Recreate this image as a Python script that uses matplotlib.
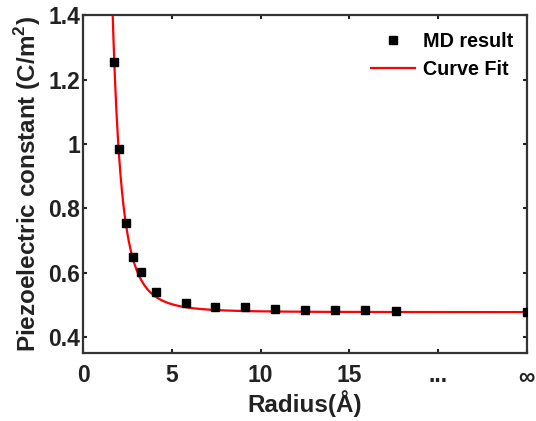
import numpy as np
import matplotlib
matplotlib.use("Agg")
import matplotlib.pyplot as plt

plt.rcParams['font.family'] = ['Liberation Sans', 'DejaVu Sans']
plt.rcParams['font.weight'] = 'bold'
plt.rcParams['mathtext.fontset'] = 'custom'
plt.rcParams['mathtext.bf'] = 'Liberation Sans:bold'
plt.rcParams['mathtext.rm'] = 'Liberation Sans:bold'

# MD results (last point is the bulk value, drawn at the "infinity" slot x=25)
radius = [1.76, 2.0, 2.42, 2.79, 3.26, 4.1, 5.77, 7.45, 9.12, 10.8, 12.5, 14.2, 15.9, 17.6, 25]
piezo = [1.255, 0.984, 0.755, 0.649, 0.601, 0.541, 0.505, 0.494, 0.492, 0.487,
         0.484, 0.483, 0.483, 0.481, 0.476]

# curve fit parameters: y = c + a * r^(-n)
fit_c = 0.477
fit_a = 5.0
fit_n = 3.3

xticks = [0, 5, 10, 15, 20, 25]
xticklabels = ['0', '5', '10', '15', '...', r'$\infty$']
yticks = [0.4, 0.6, 0.8, 1.0, 1.2, 1.4]
yticklabels = ['0.4', '0.6', '0.8', '1', '1.2', '1.4']

fig = plt.figure(figsize=(5.36, 4.21), dpi=100)
ax = fig.add_axes([0.155, 0.1615, 0.828, 0.8025])

r_fit = np.linspace(1.4, 25, 600)
y_fit = fit_c + fit_a * r_fit ** (-fit_n)

ax.plot(radius, piezo, 's', color='black', markersize=6, label='MD result', zorder=3)
ax.plot(r_fit, y_fit, '-', color='red', lw=1.6, label='Curve Fit', zorder=2)

ax.set_xlim(0, 25)
ax.set_ylim(0.35, 1.4)
ax.set_xticks(xticks)
ax.set_xticklabels(xticklabels)
ax.set_yticks(yticks)
ax.set_yticklabels(yticklabels)

ax.tick_params(direction='in', length=3, width=1.5, top=True, right=True,
               labelsize=16.5, colors='#222222', labelcolor='#222222')
ax.tick_params(axis='x', pad=8)
ax.tick_params(axis='y', pad=2)
for s in ax.spines.values():
    s.set_linewidth(1.6)
    s.set_color('#333333')

ax.set_xlabel('Radius(Å)', fontsize=17.5, fontweight='bold', color='#222222', labelpad=2)
ax.set_ylabel(r'Piezoelectric constant (C/m$^\mathbf{2}$)', fontsize=17.5,
              fontweight='bold', color='#222222', labelpad=4)

ax.legend(loc='upper right', frameon=False, fontsize=14.2, handlelength=2.2,
          handletextpad=0.4, bbox_to_anchor=(0.995, 0.985), borderaxespad=0.2,
          labelspacing=0.45)

fig.savefig('out.png', dpi=100)
